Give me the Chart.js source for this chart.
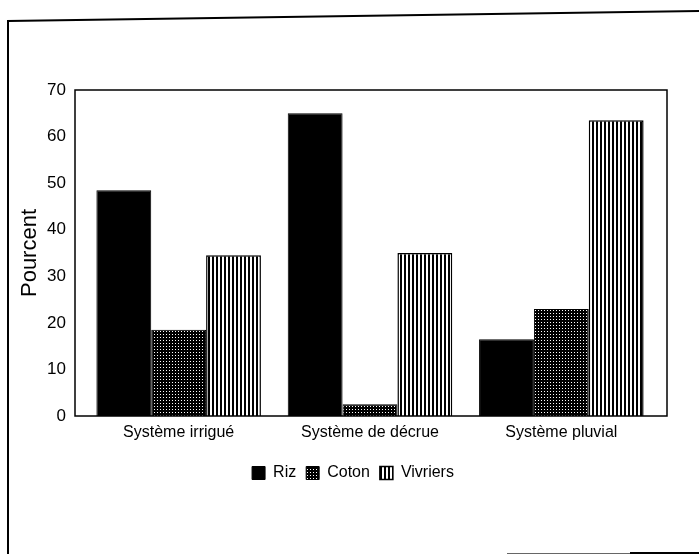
<!DOCTYPE html>
<html>
<head>
<meta charset="utf-8">
<script src="https://cdn.jsdelivr.net/npm/chart.js@4.4.0/dist/chart.umd.min.js"></script>
<style>
  html, body { margin: 0; padding: 0; background: #fff; }
  canvas { display: block; }
</style>
</head>
<body>
<canvas id="chart" width="699" height="554"></canvas>
<script>
// Chart data
const categories = ['Système irrigué', 'Système de décrue', 'Système pluvial'];
const seriesNames = ['Riz', 'Coton', 'Vivriers'];
const rizValues = [48.5, 65, 16.5];
const cotonValues = [18.5, 2.5, 23];
const vivriersValues = [34.5, 35, 63.5];
const yTicks = [0, 10, 20, 30, 40, 50, 60, 70];

const canvas = document.getElementById('chart');
const ctx = canvas.getContext('2d');

// black with small white dots (Coton)
function dotPattern() {
    const c = document.createElement('canvas');
    c.width = 3; c.height = 3;
    const g = c.getContext('2d');
    g.fillStyle = '#000';
    g.fillRect(0, 0, 3, 3);
    g.fillStyle = '#fff';
    g.fillRect(1, 1, 1, 1);
    return ctx.createPattern(c, 'repeat');
}

// vertical stripes (Vivriers)
function stripePattern() {
    const c = document.createElement('canvas');
    c.width = 4; c.height = 4;
    const g = c.getContext('2d');
    g.fillStyle = '#fff';
    g.fillRect(0, 0, 4, 4);
    g.fillStyle = '#000';
    g.fillRect(0, 0, 2, 4);
    return ctx.createPattern(c, 'repeat');
}

// the plot frame sits a little outside the bar area, as in the figure
const FRAME_OUT_LEFT = 8;
const FRAME_OUT_RIGHT = 10;

const framePlugin = {
    id: 'frame',
    beforeDraw(chart) {
        const c = chart.ctx;
        c.save();
        c.fillStyle = '#fff';
        c.fillRect(0, 0, chart.width, chart.height);
        c.strokeStyle = '#000';
        c.lineWidth = 2;
        c.beginPath();
        c.moveTo(8, 554);
        c.lineTo(8, 21);
        c.lineTo(699, 11);
        c.moveTo(630, 553);
        c.lineTo(699, 553);
        c.stroke();
        c.strokeStyle = '#666';
        c.lineWidth = 1;
        c.beginPath();
        c.moveTo(507, 553.5);
        c.lineTo(630, 553.5);
        c.stroke();
        c.restore();
    },
    afterDatasetsDraw(chart) {
        const a = chart.chartArea;
        const c = chart.ctx;
        const left = a.left - FRAME_OUT_LEFT;
        const right = a.right + FRAME_OUT_RIGHT;
        c.save();
        c.strokeStyle = '#000';
        c.lineWidth = 1.5;
        c.strokeRect(left, a.top, right - left, a.bottom - a.top);
        c.restore();
    }
};

// nudge the legend to where it sits in the figure
const legendShift = {
    id: 'legendShift',
    afterLayout(chart) {
        chart.legend.left += 18;
        chart.legend.right += 18;
    }
};

Chart.defaults.font.family = "'Liberation Sans', Arial, sans-serif";
Chart.defaults.color = '#000';

new Chart(ctx, {
    type: 'bar',
    data: {
        labels: categories,
        datasets: [
            {
                label: seriesNames[0],
                data: rizValues,
                backgroundColor: '#000',
                borderColor: '#000',
                borderWidth: 1
            },
            {
                label: seriesNames[1],
                data: cotonValues,
                backgroundColor: dotPattern(),
                borderColor: '#000',
                borderWidth: 1
            },
            {
                label: seriesNames[2],
                data: vivriersValues,
                backgroundColor: stripePattern(),
                borderColor: '#000',
                borderWidth: 1.5
            }
        ]
    },
    options: {
        responsive: false,
        animation: false,
        categoryPercentage: 0.86,
        barPercentage: 1.0,
        layout: {
            padding: { left: 13, right: 42, top: 90, bottom: 63 }
        },
        plugins: {
            tooltip: { enabled: false },
            legend: {
                position: 'bottom',
                labels: {
                    boxWidth: 13,
                    boxHeight: 13,
                    padding: 10,
                    color: '#000',
                    font: { size: 16 }
                }
            }
        },
        scales: {
            x: {
                grid: { display: false, drawTicks: false },
                border: { display: false },
                ticks: {
                    padding: 7,
                    maxRotation: 0,
                    font: { size: 16 }
                },
                afterFit: function(scale) { scale.height = 39; }
            },
            y: {
                min: 0,
                max: 70,
                grid: { display: false, drawTicks: false },
                border: { display: false },
                ticks: {
                    padding: 17,
                    font: { size: 17 }
                },
                afterBuildTicks: function(scale) {
                    scale.ticks = yTicks.map(v => ({ value: v }));
                },
                title: {
                    display: true,
                    text: 'Pourcent',
                    color: '#000',
                    font: { size: 22 }
                },
                afterFit: function(scale) { scale.width = 70; }
            }
        }
    },
    plugins: [framePlugin, legendShift]
});
</script>
</body>
</html>
